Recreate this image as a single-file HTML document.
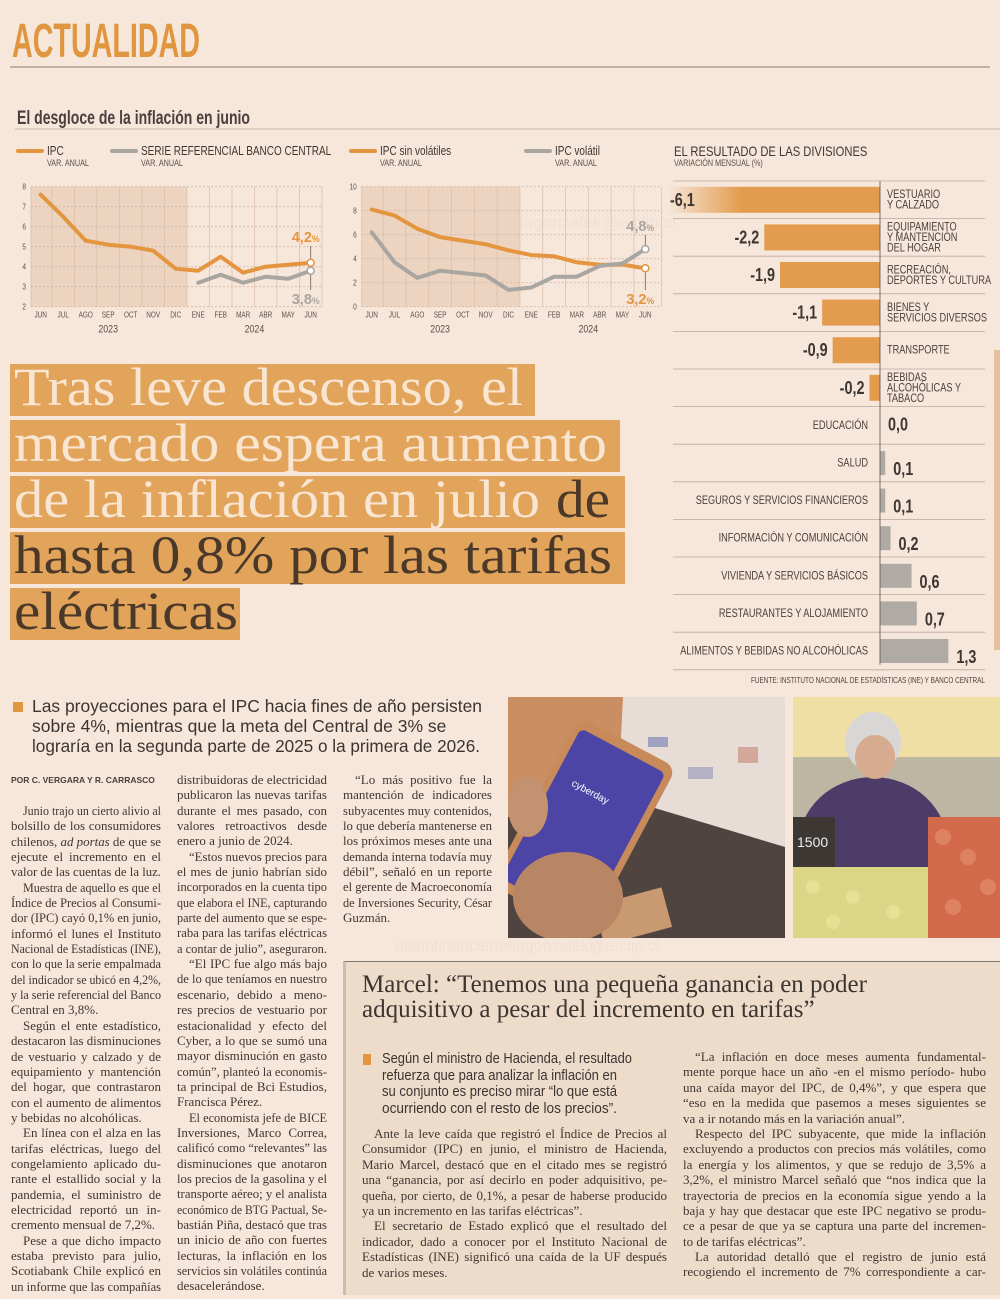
<!DOCTYPE html>
<html><head><meta charset="utf-8">
<style>
*{margin:0;padding:0;box-sizing:border-box}
body{width:1000px;height:1299px;background:#f7e6da;position:relative;overflow:hidden;font-family:"Liberation Serif",serif;color:#3e3630}
.abs{position:absolute}
.col{position:absolute;font-family:"Liberation Serif",serif;font-size:13px;line-height:15.35px;color:#3f3732}
.l{display:block;white-space:nowrap;overflow:visible;height:15.35px}
.i{padding-left:12px}
.deck{position:absolute;font-family:"Liberation Sans",sans-serif;color:#3a3532}
.mb .l{height:15.4px}
</style></head>
<body>

<svg id="top" class="abs" style="left:0;top:0" width="1000" height="700">
  <defs>
    <linearGradient id="fade" x1="0" x2="1" y1="0" y2="0">
      <stop offset="0" stop-color="#e39b4d" stop-opacity="0"/>
      <stop offset="0.35" stop-color="#e39b4d" stop-opacity="1"/>
    </linearGradient>
  </defs>
  <text x="12" y="57" font-family="Liberation Sans, sans-serif" font-weight="bold" font-size="48" fill="#e0963f" textLength="188" lengthAdjust="spacingAndGlyphs">ACTUALIDAD</text>
  <line x1="10" y1="67" x2="990" y2="67" stroke="#8a7a6e" stroke-width="1"/>
  <text x="17" y="124" font-family="Liberation Sans, sans-serif" font-weight="bold" font-size="19" fill="#4a4040" textLength="233" lengthAdjust="spacingAndGlyphs">El desgloce de la inflación en junio</text>
  <line x1="15" y1="129" x2="1000" y2="129" stroke="#c9b8ab" stroke-width="1"/>
  <text x="395" y="228" font-family="Liberation Sans, sans-serif" font-size="17" fill="#efe0d6">diariofinanciero#lagonzalek@e-clip.cl</text>
  <g id="chart1"></g>
  <g id="chart2"></g>
  <g id="chart3"></g>

  <g font-family="Liberation Serif, serif">
    <rect x="10" y="364" width="525" height="52" fill="#e2a35b"/>
    <rect x="10" y="420" width="610" height="52" fill="#e2a35b"/>
    <rect x="10" y="476" width="615" height="52" fill="#e2a35b"/>
    <rect x="10" y="532" width="615" height="52" fill="#e2a35b"/>
    <rect x="10" y="588" width="230" height="52" fill="#e2a35b"/>
    <text x="14" y="405" font-size="54" fill="#f8e6d2" textLength="509" lengthAdjust="spacingAndGlyphs">Tras leve descenso, el</text>
    <text x="14" y="461" font-size="54" fill="#f8e6d2" textLength="593" lengthAdjust="spacingAndGlyphs">mercado espera aumento</text>
    <text x="14" y="517" font-size="54" fill="#f8e6d2" textLength="526" lengthAdjust="spacingAndGlyphs">de la inflación en julio</text>
    <text x="556" y="517" font-size="54" fill="#4a3828" textLength="54" lengthAdjust="spacingAndGlyphs">de</text>
    <text x="14" y="573" font-size="54" fill="#4a3828" textLength="598" lengthAdjust="spacingAndGlyphs">hasta 0,8% por las tarifas</text>
    <text x="14" y="629" font-size="54" fill="#4a3828" textLength="224" lengthAdjust="spacingAndGlyphs">eléctricas</text>
  </g>
  <rect x="994" y="350" width="6" height="300" fill="#d9a675" opacity="0.6"/>
</svg>

<!-- deck -->
<div class="abs" style="left:13px;top:702px;width:10px;height:10px;background:#e2963f"></div>
<div class="deck" style="left:32px;top:696px;font-size:17.5px;line-height:20px;width:470px">
<div class="l e" style="height:20px;width:450px">Las proyecciones para el IPC hacia fines de año persisten</div>
<div class="l e" style="height:20px;width:450px">sobre 4%, mientras que la meta del Central de 3% se</div>
<div class="l e" style="height:20px;width:448px">lograría en la segunda parte de 2025 o la primera de 2026.</div>
</div>

<div class="abs" style="left:11px;top:775px;font-family:'Liberation Sans',sans-serif;font-weight:bold;font-size:8.5px;color:#4a403a">POR C. VERGARA Y R. CARRASCO</div>

<div class="col" style="left:11px;top:803px;width:150px">
<div class="l i">Junio trajo un cierto alivio al</div>
<div class="l">bolsillo de los consumidores</div>
<div class="l">chilenos, <i>ad portas</i> de que se</div>
<div class="l">ejecute el incremento en el</div>
<div class="l e">valor de las cuentas de la luz.</div>
<div class="l i">Muestra de aquello es que el</div>
<div class="l">Índice de Precios al Consumi-</div>
<div class="l">dor (IPC) cayó 0,1% en junio,</div>
<div class="l">informó el lunes el Instituto</div>
<div class="l">Nacional de Estadísticas (INE),</div>
<div class="l">con lo que la serie empalmada</div>
<div class="l">del indicador se ubicó en 4,2%,</div>
<div class="l">y la serie referencial del Banco</div>
<div class="l e">Central en 3,8%.</div>
<div class="l i">Según el ente estadístico,</div>
<div class="l">destacaron las disminuciones</div>
<div class="l">de vestuario y calzado y de</div>
<div class="l">equipamiento y mantención</div>
<div class="l">del hogar, que contrastaron</div>
<div class="l">con el aumento de alimentos</div>
<div class="l e">y bebidas no alcohólicas.</div>
<div class="l i">En línea con el alza en las</div>
<div class="l">tarifas eléctricas, luego del</div>
<div class="l">congelamiento aplicado du-</div>
<div class="l">rante el estallido social y la</div>
<div class="l">pandemia, el suministro de</div>
<div class="l">electricidad reportó un in-</div>
<div class="l e">cremento mensual de 7,2%.</div>
<div class="l i">Pese a que dicho impacto</div>
<div class="l">estaba previsto para julio,</div>
<div class="l">Scotiabank Chile explicó en</div>
<div class="l">un informe que las compañías</div>
</div>

<div class="col" style="left:177px;top:772px;width:150px">
<div class="l">distribuidoras de electricidad</div>
<div class="l">publicaron las nuevas tarifas</div>
<div class="l">durante el mes pasado, con</div>
<div class="l">valores retroactivos desde</div>
<div class="l e">enero a junio de 2024.</div>
<div class="l i">“Estos nuevos precios para</div>
<div class="l">el mes de junio habrían sido</div>
<div class="l">incorporados en la cuenta tipo</div>
<div class="l">que elabora el INE, capturando</div>
<div class="l">parte del aumento que se espe-</div>
<div class="l">raba para las tarifas eléctricas</div>
<div class="l e">a contar de julio”, aseguraron.</div>
<div class="l i">“El IPC fue algo más bajo</div>
<div class="l">de lo que teníamos en nuestro</div>
<div class="l">escenario, debido a meno-</div>
<div class="l">res precios de vestuario por</div>
<div class="l">estacionalidad y efecto del</div>
<div class="l">Cyber, a lo que se sumó una</div>
<div class="l">mayor disminución en gasto</div>
<div class="l">común”, planteó la economis-</div>
<div class="l">ta principal de Bci Estudios,</div>
<div class="l e">Francisca Pérez.</div>
<div class="l i">El economista jefe de BICE</div>
<div class="l">Inversiones, Marco Correa,</div>
<div class="l">calificó como “relevantes” las</div>
<div class="l">disminuciones que anotaron</div>
<div class="l">los precios de la gasolina y el</div>
<div class="l">transporte aéreo; y el analista</div>
<div class="l">económico de BTG Pactual, Se-</div>
<div class="l">bastián Piña, destacó que tras</div>
<div class="l">un inicio de año con fuertes</div>
<div class="l">lecturas, la inflación en los</div>
<div class="l">servicios sin volátiles continúa</div>
<div class="l e">desacelerándose.</div>
</div>

<div class="col" style="left:343px;top:772px;width:149px">
<div class="l i">“Lo más positivo fue la</div>
<div class="l">mantención de indicadores</div>
<div class="l">subyacentes muy contenidos,</div>
<div class="l">lo que debería mantenerse en</div>
<div class="l">los próximos meses ante una</div>
<div class="l">demanda interna todavía muy</div>
<div class="l">débil”, señaló en un reporte</div>
<div class="l">el gerente de Macroeconomía</div>
<div class="l">de Inversiones Security, César</div>
<div class="l e">Guzmán.</div>
</div>

<!-- photos -->
<svg class="abs" style="left:508px;top:697px" width="277" height="241">
  <rect width="277" height="241" fill="#4f4440"/>
  <rect width="120" height="120" fill="#c98f62"/>
  <polygon points="115,0 277,0 277,150 110,100" fill="#e7ddd6"/>
  <rect x="140" y="40" width="20" height="10" fill="#9fa2c0"/>
  <rect x="180" y="70" width="25" height="12" fill="#b6b2c6"/>
  <rect x="230" y="50" width="20" height="16" fill="#d4a79b"/>
  <rect x="90" y="200" width="70" height="41" fill="#c99a72" transform="rotate(-15 120 220)"/>
  <g transform="rotate(28 80 120)">
    <rect x="25" y="35" width="110" height="190" rx="12" fill="#c88a5a"/>
    <rect x="32" y="45" width="96" height="170" rx="6" fill="#4c45a6"/>
    <text x="50" y="100" font-family="Liberation Sans,sans-serif" font-size="10" fill="#fff">cyberday</text>
  </g>
  <ellipse cx="60" cy="200" rx="55" ry="45" fill="#b98665"/>
  <ellipse cx="20" cy="110" rx="20" ry="30" fill="#c49270"/>
</svg>
<svg class="abs" style="left:793px;top:697px" width="207" height="241">
  <rect width="207" height="241" fill="#efdfa5"/>
  <rect y="60" width="207" height="60" fill="#bdb6a3"/>
  <ellipse cx="80" cy="150" rx="75" ry="70" fill="#4d3c68"/>
  <ellipse cx="80" cy="45" rx="28" ry="30" fill="#d9d6d6"/>
  <ellipse cx="82" cy="60" rx="20" ry="22" fill="#d6ab8f"/>
  <rect x="0" y="120" width="42" height="50" fill="#3e3834"/>
  <text x="4" y="150" font-family="Liberation Sans,sans-serif" font-size="14" fill="#eee">1500</text>
  <rect x="0" y="170" width="140" height="71" fill="#dcd586"/>
  <rect x="135" y="120" width="72" height="121" fill="#d36a4c"/>
  <g fill="#e89a78" opacity="0.5"><circle cx="150" cy="140" r="8"/><circle cx="175" cy="160" r="8"/><circle cx="195" cy="190" r="8"/><circle cx="160" cy="210" r="8"/></g>
  <g fill="#eee8a0" opacity="0.6"><circle cx="20" cy="190" r="7"/><circle cx="60" cy="200" r="7"/><circle cx="100" cy="215" r="7"/><circle cx="40" cy="225" r="7"/></g>
</svg>
<div class="abs" style="left:395px;top:938px;font-family:'Liberation Sans',sans-serif;font-size:16px;color:#efe0d6">diariofinanciero#lagonzalek@e-clip.cl</div>

<!-- Marcel box -->
<div class="abs mb" style="left:343px;top:961px;width:657px;height:334px;background:#eedccb;border-top:1.5px solid #7d7570;border-left:3px solid #c8bdb5"></div>
<div class="col" style="left:362px;top:972px;font-size:25px;line-height:25px;color:#3d3530;width:540px">
<div class="l e" style="height:25px;width:537px">Marcel: “Tenemos una pequeña ganancia en poder</div>
<div class="l e" style="height:25px;width:480px">adquisitivo a pesar del incremento en tarifas”</div>
</div>
<div class="abs" style="left:363px;top:1054px;width:8px;height:11px;background:#e2963f"></div>
<div class="deck" style="left:382px;top:1051px;font-size:15px;line-height:16.7px;width:260px">
<div class="l e" style="height:16.7px;width:250px">Según el ministro de Hacienda, el resultado</div>
<div class="l e" style="height:16.7px;width:235px">refuerza que para analizar la inflación en</div>
<div class="l e" style="height:16.7px;width:235px">su conjunto es preciso mirar “lo que está</div>
<div class="l e" style="height:16.7px;width:235px">ocurriendo con el resto de los precios”.</div>
</div>
<div class="col mb" style="left:362px;top:1126px;width:305px;line-height:15.4px">
<div class="l i">Ante la leve caída que registró el Índice de Precios al</div>
<div class="l">Consumidor (IPC) en junio, el ministro de Hacienda,</div>
<div class="l">Mario Marcel, destacó que en el citado mes se registró</div>
<div class="l">una “ganancia, por así decirlo en poder adquisitivo, pe-</div>
<div class="l">queña, por cierto, de 0,1%, a pesar de haberse producido</div>
<div class="l e">ya un incremento en las tarifas eléctricas”.</div>
<div class="l i">El secretario de Estado explicó que el resultado del</div>
<div class="l">indicador, dado a conocer por el Instituto Nacional de</div>
<div class="l">Estadísticas (INE) significó una caída de la UF después</div>
<div class="l e">de varios meses.</div>
</div>
<div class="col mb" style="left:683px;top:1049px;width:303px;line-height:15.4px">
<div class="l i">“La inflación en doce meses aumenta fundamental-</div>
<div class="l">mente porque hace un año -en el mismo período- hubo</div>
<div class="l">una caída mayor del IPC, de 0,4%”, y que espera que</div>
<div class="l">“eso en la medida que pasemos a meses siguientes se</div>
<div class="l e">va a ir notando más en la variación anual”.</div>
<div class="l i">Respecto del IPC subyacente, que mide la inflación</div>
<div class="l">excluyendo a productos con precios más volátiles, como</div>
<div class="l">la energía y los alimentos, y que se redujo de 3,5% a</div>
<div class="l">3,2%, el ministro Marcel señaló que “nos indica que la</div>
<div class="l">trayectoria de precios en la economía sigue yendo a la</div>
<div class="l">baja y hay que destacar que este IPC negativo se produ-</div>
<div class="l">ce a pesar de que ya se captura una parte del incremen-</div>
<div class="l e">to de tarifas eléctricas”.</div>
<div class="l i">La autoridad detalló que el registro de junio está</div>
<div class="l">recogiendo el incremento de 7% correspondiente a car-</div>
</div>

<script>
// ---- chart data ----
const months = ['JUN','JUL','AGO','SEP','OCT','NOV','DIC','ENE','FEB','MAR','ABR','MAY','JUN'];
const years = ['2023','2024'];
const ipc = [7.6,6.5,5.3,5.1,5.0,4.8,3.9,3.8,4.5,3.7,4.0,4.1,4.2];
const serieRef = [null,null,null,null,null,null,null,3.2,3.6,3.2,3.5,3.4,3.8];
const ticks1 = [2,3,4,5,6,7,8];
const sinVolatiles = [8.1,7.6,6.5,5.8,5.5,5.2,4.7,4.3,4.2,3.7,3.5,3.5,3.2];
const volatil = [6.2,3.7,2.4,3.0,2.8,2.6,1.4,1.6,2.5,2.5,3.4,3.6,4.8];
const ticks2 = [0,2,4,6,8,10];
const divisions = ['VESTUARIO\nY CALZADO','EQUIPAMIENTO\nY MANTENCIÓN\nDEL HOGAR','RECREACIÓN,\nDEPORTES Y CULTURA','BIENES Y\nSERVICIOS DIVERSOS','TRANSPORTE','BEBIDAS\nALCOHÓLICAS Y\nTABACO','EDUCACIÓN','SALUD','SEGUROS Y SERVICIOS FINANCIEROS','INFORMACIÓN Y COMUNICACIÓN','VIVIENDA Y SERVICIOS BÁSICOS','RESTAURANTES Y ALOJAMIENTO','ALIMENTOS Y BEBIDAS NO ALCOHÓLICAS'];
const divValues = [-6.1,-2.2,-1.9,-1.1,-0.9,-0.2,0.0,0.1,0.1,0.2,0.6,0.7,1.3];

const NS='http://www.w3.org/2000/svg';
const COND='Liberation Sans, sans-serif';
function mk(parent,tag,attrs,text){
  const e=document.createElementNS(NS,tag);
  for(const k in attrs)e.setAttribute(k,attrs[k]);
  if(text!==undefined)e.textContent=text;
  parent.appendChild(e);
  if(tag==='text'&&attrs['font-family']===COND){
    const len=e.getComputedTextLength();
    if(len>0){e.setAttribute('textLength',(len*0.8).toFixed(1));e.setAttribute('lengthAdjust','spacingAndGlyphs');}
  }
  return e;
}
const ORANGE='#e3953f', GRAY='#a9a5a1';
const fmt=v=>v.toFixed(1).replace('.',',');

function lineChart(g,cfg){
  const {x,y,ticks,xl,xr,yTop,yBot,shadeTo,series}=cfg;
  mk(g,'rect',{x:xl,y:yTop,width:shadeTo-xl,height:yBot-yTop,fill:'#ecd4c0'});
  for(let i=0;i<=months.length;i++){
    const xx = i===0?xl:(i===months.length?xr:(x(i-1)+x(i))/2);
    mk(g,'line',{x1:xx,x2:xx,y1:yTop,y2:yBot,stroke:'#dcc0aa','stroke-width':0.8});
  }
  ticks.forEach(t=>{
    mk(g,'line',{x1:xl,x2:xr,y1:y(t),y2:y(t),stroke:'#cdb8a8','stroke-width':0.8,'stroke-dasharray':'2,2'});
    const tx=mk(g,'text',{x:xl-5,y:y(t)+3,'font-size':8,'text-anchor':'end',fill:'#5a504a','font-family':COND},t);
    
    
  });
  months.forEach((m,i)=>{
    const t=mk(g,'text',{x:x(i),y:yBot+11,'font-size':8,'text-anchor':'middle',fill:'#5a504a','font-family':COND},m);
    
    
  });
  const y1=mk(g,'text',{x:(x(0)+x(6))/2,y:yBot+26,'font-size':11,'text-anchor':'middle',fill:'#5a504a','font-family':COND},years[0]);
  
  
  const y2=mk(g,'text',{x:(x(7)+x(12))/2,y:yBot+26,'font-size':11,'text-anchor':'middle',fill:'#5a504a','font-family':COND},years[1]);
  
  
  series.forEach(s=>{
    let d='';s.data.forEach((v,i)=>{if(v===null)return;d+=(d?'L':'M')+x(i)+','+y(v);});
    const p=mk(g,'path',{d,fill:'none',stroke:s.color,'stroke-width':4,'stroke-linejoin':'round','stroke-linecap':'round'});
    
    
    const last=s.data.length-1, v=s.data[last];
    mk(g,'line',{x1:x(last),x2:x(last),y1:y(v),y2:s.labelY+(s.labelY<y(v)?4:-14),stroke:'#6a625c','stroke-width':0.8});
    const c=mk(g,'circle',{cx:x(last),cy:y(v),r:3.5,fill:'#fff',stroke:s.color,'stroke-width':1.5});
    
    
    const t=mk(g,'text',{x:x(last)+9,y:s.labelY,'font-size':15,'font-weight':'bold','text-anchor':'end',fill:s.color,'font-family':'Liberation Sans, sans-serif'},fmt(v));
    mk(t,'tspan',{'font-size':9},'%');
    t.setAttribute('textLength','28');
    t.setAttribute('lengthAdjust','spacingAndGlyphs');
    
    
  });
}
function legend(g,x,label,color){
  mk(g,'line',{x1:x,x2:x+24,y1:151,y2:151,stroke:color,'stroke-width':4,'stroke-linecap':'round'});
  const t=mk(g,'text',{x:x+29,y:155,'font-size':12.5,fill:'#3e3630','font-family':COND},label);
  
  
  mk(g,'text',{x:x+29,y:166,'font-size':9,fill:'#5a504a','font-family':COND},'VAR. ANUAL');
}

// chart 1
const x1=i=>40.7+i*22.5, yv1=v=>306.7-(v-2)*20;
const g1=document.getElementById('chart1');
legend(g1,18,'IPC',ORANGE); legend(g1,112,'SERIE REFERENCIAL BANCO CENTRAL',GRAY);
lineChart(g1,{x:x1,y:yv1,ticks:ticks1,xl:31,xr:322,yTop:186.7,yBot:306.7,shadeTo:187,
  series:[{data:ipc,color:ORANGE,name:'ipc-line',labelY:242},{data:serieRef,color:GRAY,name:'serie-referencial-line',labelY:304}]});

// chart 2
const x2=i=>371.7+i*22.8, yv2=v=>306.7-v*12;
const g2=document.getElementById('chart2');
legend(g2,351,'IPC sin volátiles',ORANGE); legend(g2,526,'IPC volátil',GRAY);
lineChart(g2,{x:x2,y:yv2,ticks:ticks2,xl:361.7,xr:661.7,yTop:186.7,yBot:306.7,shadeTo:520,
  series:[{data:sinVolatiles,color:ORANGE,name:'sin-volatiles-line',labelY:304},{data:volatil,color:GRAY,name:'volatil-line',labelY:231}]});

// chart 3 bars
const g3=document.getElementById('chart3');
const zeroX=880, perUnit=52.6, rowTop=181, rowH=37.6;
const xb=v=>zeroX+v*perUnit, rowC=i=>rowTop+(i+0.5)*rowH;
mk(g3,'text',{x:674,y:156,'font-size':14,fill:'#3e3630','font-family':COND},'EL RESULTADO DE LAS DIVISIONES');
mk(g3,'text',{x:674,y:166,'font-size':9,fill:'#5a504a','font-family':COND},'VARIACIÓN MENSUAL (%)');
for(let i=0;i<=divisions.length;i++){
  mk(g3,'line',{x1:673,x2:985,y1:rowTop+i*rowH,y2:rowTop+i*rowH,stroke:'#b8aaa0','stroke-width':0.8});
}
divValues.forEach((v,i)=>{
  const c=rowC(i);
  const neg=v<0;
  const left=Math.max(668,Math.min(xb(v),zeroX)), right=Math.max(xb(v),zeroX);
  if(v!==0){
    const r=mk(g3,'rect',{x:left,y:c-(neg?13:12),width:right-left,height:neg?26:24,fill:neg?(xb(v)<668?'url(#fade)':'#e39b4d'):'#b0aaa5'});
    
    
  }
  const lines=divisions[i].split('\n');
  const lh=10.5;
  lines.forEach((ln,k)=>{
    const ty=c+(k-(lines.length-1)/2)*lh+3.5;
    const t=mk(g3,'text',{x:neg?887:868,y:ty,'font-size':11.5,'text-anchor':neg?'start':'end',fill:'#4a403a','font-family':COND},ln);
    
    
  });
  let vt;
  if(neg){
    const lx = xb(v)<668 ? 670 : left-5;
    vt=mk(g3,'text',{x:lx,y:c+6,'font-size':18,'font-weight':'bold','text-anchor':xb(v)<668?'start':'end',fill:'#3e3630','font-family':COND},fmt(v));
  } else {
    vt=mk(g3,'text',{x:Math.max(right+8,886),y:c+(v===0?5:12),'font-size':18,'font-weight':'bold','text-anchor':'start',fill:'#3e3630','font-family':COND},fmt(v));
  }
  
  
});
mk(g3,'line',{x1:zeroX,x2:zeroX,y1:rowTop,y2:rowTop+divisions.length*rowH-5,stroke:'#5a504a','stroke-width':0.8});
mk(g3,'text',{x:985,y:683,'font-size':8,'text-anchor':'end',fill:'#4a403a','font-family':COND},'FUENTE: INSTITUTO NACIONAL DE ESTADÍSTICAS (INE) Y BANCO CENTRAL');

// ---- justify text lines ----
document.querySelectorAll('.l').forEach(el=>{
  const cs=getComputedStyle(el);
  const pad=parseFloat(cs.paddingLeft)||0;
  const avail=el.clientWidth-pad;
  const sp=document.createElement('span');
  while(el.firstChild) sp.appendChild(el.firstChild);
  el.appendChild(sp);
  sp.style.display='inline-block';
  const w=sp.getBoundingClientRect().width;
  if(w>avail){
    sp.style.transformOrigin='0 0';
    sp.style.transform='scaleX('+(avail/w)+')';
  } else if(!el.classList.contains('e')){
    const n=(sp.textContent.match(/ /g)||[]).length;
    if(n>0) sp.style.wordSpacing=((avail-w)/n)+'px';
  }
});
</script>
</body></html>
